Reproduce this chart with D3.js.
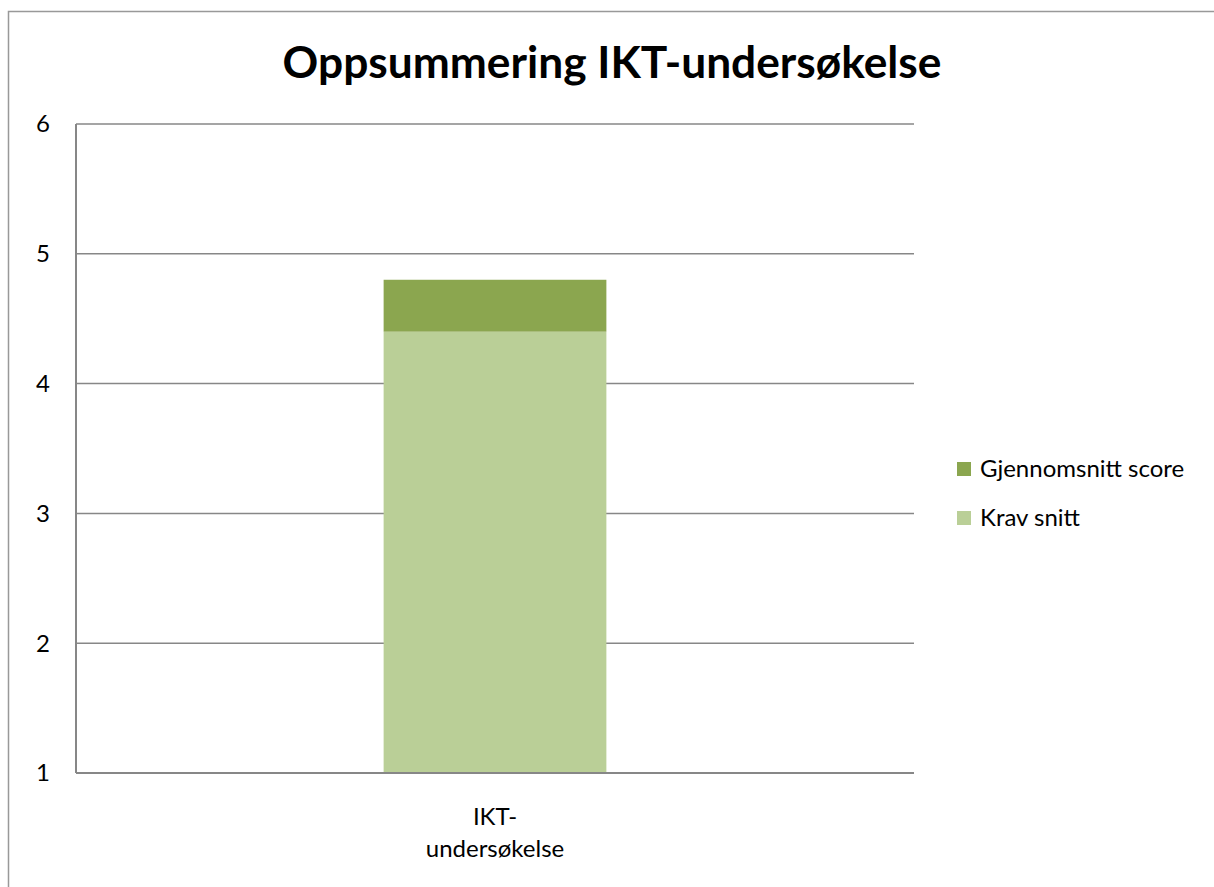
<!DOCTYPE html>
<html>
<head>
<meta charset="utf-8">
<script src="https://cdn.jsdelivr.net/npm/d3@7"></script>
<style>
  html, body { margin: 0; padding: 0; background: #fff; overflow: hidden; }
  svg { display: block; font-family: Lato, "Open Sans", sans-serif; }
</style>
</head>
<body>
<div id="chart"></div>
<script>
// Stacked column: one category, two series on top of each other.

const TITLE = "Oppsummering IKT-undersøkelse";
const CATEGORIES = ["IKT-undersøkelse"];
const CATEGORY_LINES = [["IKT-", "undersøkelse"]];
const SERIES = [
  { key: "krav",  label: "Krav snitt",         color: "#bacf97", values: [4.4] },
  { key: "score", label: "Gjennomsnitt score", color: "#8ba64f", values: [0.4] },
];
const Y_TICKS = [1, 2, 3, 4, 5, 6];

const W = 1214, H = 887;
const plot = { left: 76, right: 914, top: 124, bottom: 773 };

const svg = d3.select("#chart").append("svg").attr("width", W).attr("height", H);

// outer chart frame (runs off the right / bottom of the picture)
svg.append("rect")
  .attr("x", 8.5).attr("y", 11.5).attr("width", W + 20).attr("height", H + 20)
  .attr("fill", "none").attr("stroke", "#999").attr("stroke-width", 1.5);

const x = d3.scaleBand().domain(CATEGORIES).range([plot.left, plot.right]).padding(0.58);
const y = d3.scaleLinear().domain([1, 6]).range([plot.bottom, plot.top]);

// gridlines
svg.append("g").selectAll("line").data(Y_TICKS.filter(t => t > 1)).join("line")
  .attr("x1", plot.left).attr("x2", plot.right)
  .attr("y1", d => y(d)).attr("y2", d => y(d))
  .attr("stroke", "#878787").attr("stroke-width", 1.5);

// stacked bars
const stacked = [];
CATEGORIES.forEach((c, i) => {
  let base = 0;
  SERIES.forEach(s => {
    const v = s.values[i];
    stacked.push({ cat: c, color: s.color, y0: base, y1: base + v });
    base += v;
  });
});
svg.append("g").selectAll("rect").data(stacked).join("rect")
  .attr("x", d => x(d.cat)).attr("width", x.bandwidth())
  .attr("y", d => y(d.y1))
  .attr("height", d => y(Math.max(d.y0, 1)) - y(d.y1))
  .attr("fill", d => d.color);

// axis lines
svg.append("line")
  .attr("x1", plot.left).attr("x2", plot.left).attr("y1", plot.top).attr("y2", plot.bottom)
  .attr("stroke", "#878787").attr("stroke-width", 2);
svg.append("line")
  .attr("x1", plot.left).attr("x2", plot.right).attr("y1", plot.bottom).attr("y2", plot.bottom)
  .attr("stroke", "#878787").attr("stroke-width", 2);

const FS = 24;

// y tick labels
svg.append("g").selectAll("text").data(Y_TICKS).join("text")
  .attr("x", 50).attr("y", d => y(d)).attr("dy", "0.35em")
  .attr("text-anchor", "end").style("font-size", FS + "px").style("fill", "#000")
  .text(d => d);

// category labels
CATEGORIES.forEach((c, i) => {
  const t = svg.append("text")
    .attr("text-anchor", "middle").style("font-size", FS + "px").style("fill", "#000");
  CATEGORY_LINES[i].forEach((line, j) => {
    t.append("tspan").attr("x", x(c) + x.bandwidth() / 2).attr("y", 825 + j * 32).text(line);
  });
});

// title, fitted to the reference width
const title = svg.append("text")
  .attr("x", 612).attr("y", 78).attr("text-anchor", "middle")
  .style("font-weight", "bold").style("font-size", "40px").style("fill", "#000")
  .text(TITLE);
const tw = title.node().getComputedTextLength();
title.style("font-size", (40 * 659 / tw) + "px");

// legend (top series first)
const legend = svg.append("g").selectAll("g").data(SERIES.slice().reverse()).join("g")
  .attr("transform", (d, i) => `translate(957,${469 + i * 49})`);
legend.append("rect").attr("y", -7).attr("width", 14).attr("height", 14)
  .attr("fill", d => d.color);
legend.append("text").attr("x", 23).attr("dy", "0.35em")
  .style("font-size", FS + "px").style("fill", "#000").text(d => d.label);
</script>
</body>
</html>
